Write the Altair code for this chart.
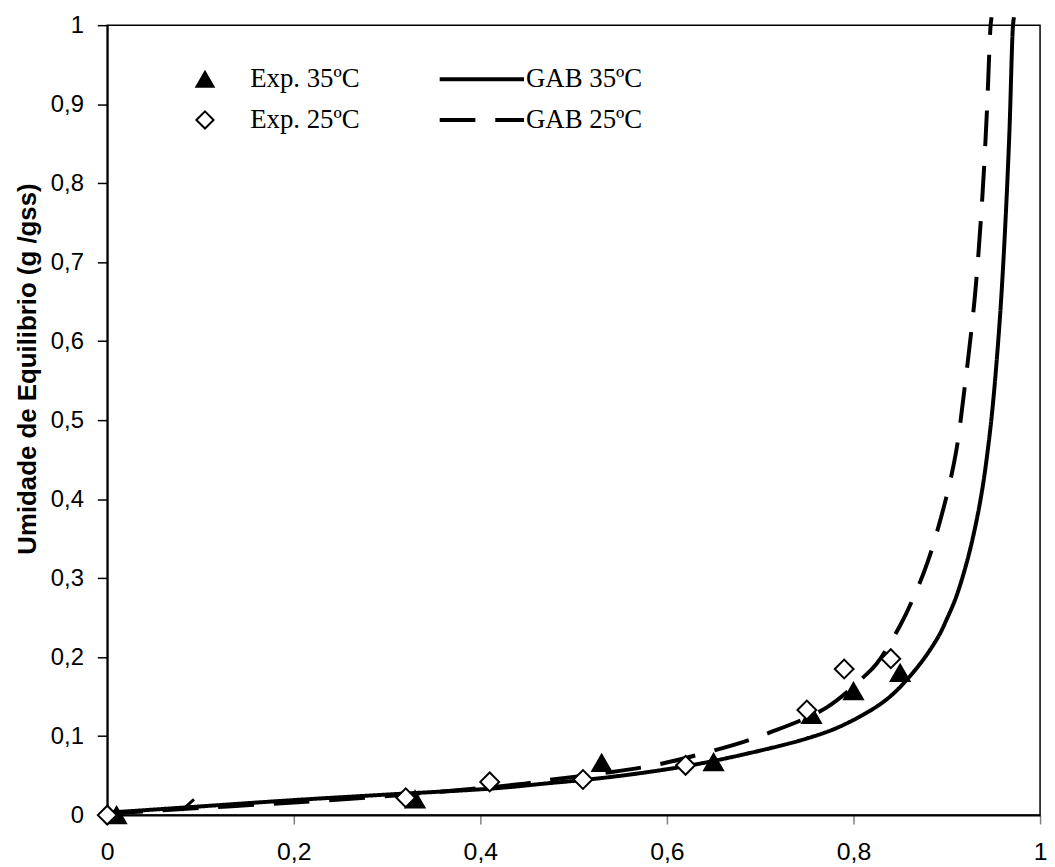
import altair as alt
import pandas as pd

# Experimental points
exp35_aw = [0.01, 0.33, 0.53, 0.65, 0.755, 0.80, 0.85]
exp35_x = [0.0, 0.020, 0.066, 0.067, 0.127, 0.157, 0.180]
exp25_aw = [0.0, 0.32, 0.41, 0.51, 0.62, 0.75, 0.79, 0.84]
exp25_x = [0.0, 0.022, 0.042, 0.045, 0.063, 0.133, 0.185, 0.198]

# GAB model curves
gab35_aw = [0.0, 0.1, 0.2, 0.3, 0.417, 0.47, 0.523, 0.577, 0.63, 0.683, 0.75, 0.789,
            0.835, 0.867, 0.890, 0.900, 0.910, 0.921, 0.930, 0.938, 0.945, 0.950, 0.957,
            0.962, 0.967, 0.971, 0.972]
gab35_x = [0.003, 0.011, 0.019, 0.026, 0.034, 0.040, 0.046, 0.054, 0.064, 0.077, 0.097, 0.114,
           0.146, 0.185, 0.224, 0.248, 0.276, 0.318, 0.362, 0.412, 0.472, 0.527, 0.630,
           0.730, 0.860, 1.0, 1.01]
gab25_aw = [0.0, 0.1, 0.2, 0.289, 0.35, 0.441, 0.47, 0.531, 0.59, 0.648, 0.683, 0.707, 0.771,
            0.811, 0.825, 0.850, 0.866, 0.880, 0.899, 0.910, 0.918, 0.930, 0.938, 0.943, 0.947, 0.948]
gab25_x = [0.002, 0.009, 0.016, 0.023, 0.029, 0.039, 0.044, 0.053, 0.064, 0.081, 0.093, 0.103, 0.136,
           0.175, 0.192, 0.240, 0.280, 0.322, 0.400, 0.460, 0.530, 0.655, 0.780, 0.890, 1.0, 1.01]

# small stray stroke near the origin
stray_aw = [0.080, 0.093]
stray_x = [0.006, 0.020]

series_names = ["Exp. 35ºC", "Exp. 25ºC"]
model_names = ["GAB 35ºC", "GAB 25ºC"]
x_ticks = [0, 0.2, 0.4, 0.6, 0.8, 1]
y_ticks = [0, 0.1, 0.2, 0.3, 0.4, 0.5, 0.6, 0.7, 0.8, 0.9, 1]

pts = pd.DataFrame(
    [{"aw": a, "X": v, "series": series_names[0]} for a, v in zip(exp35_aw, exp35_x)]
    + [{"aw": a, "X": v, "series": series_names[1]} for a, v in zip(exp25_aw, exp25_x)]
)
pts["order"] = range(len(pts))
lines = pd.DataFrame(
    [{"aw": a, "X": v, "model": model_names[0]} for a, v in zip(gab35_aw, gab35_x)]
    + [{"aw": a, "X": v, "model": model_names[1]} for a, v in zip(gab25_aw, gab25_x)]
)
stray = pd.DataFrame({"aw": stray_aw, "X": stray_x})

label_expr = "replace(format(datum.value, '.1~f'), '.', ',')"

xscale = alt.Scale(domain=[0, 1], nice=False)
yscale = alt.Scale(domain=[0, 1], nice=False)

xaxis = alt.Axis(values=x_ticks, labelExpr=label_expr, title=None, grid=False,
                 tickSize=9, tickColor="#808080", tickWidth=1.5, labelPadding=16,
                 labelFlush=False, labelOverlap=False,
                 labelFont="Liberation Sans", labelFontSize=25, labelColor="black",
                 domainColor="black", domainWidth=2)
yaxis = alt.Axis(values=y_ticks, labelExpr=label_expr, title="Umidade de Equilibrio (g /gss)",
                 grid=False, tickSize=10, tickColor="black", tickWidth=1.5, labelPadding=14,
                 labelFlush=False, labelOverlap=False,
                 labelFont="Liberation Sans", labelFontSize=24, labelColor="black",
                 domainColor="black", domainWidth=2,
                 titleFont="Liberation Sans", titleFontSize=26, titleFontWeight="bold",
                 titleColor="black", titleX=-80, titleY=346, titleAngle=-90,
                 titleBaseline="middle", titleAlign="center")

line_legend = alt.Legend(title=None, orient="none", legendX=333, legendY=42,
                         symbolType="stroke", symbolSize=7225, symbolStrokeWidth=4,
                         symbolStrokeColor="black", labelOffset=0, clipHeight=25,
                         rowPadding=13, padding=0, labelFont="Liberation Serif",
                         labelFontSize=27, labelColor="black", labelBaseline="middle")

pt_legend = alt.Legend(title=None, orient="none", legendX=85, legendY=42,
                       symbolSize=300, symbolStrokeWidth=2, symbolStrokeColor="black",
                       labelOffset=32, clipHeight=25, rowPadding=13, padding=0,
                       labelFont="Liberation Serif", labelFontSize=27, labelColor="black",
                       labelBaseline="middle", symbolOpacity=1)

line_layer = alt.Chart(lines).mark_line(color="black", strokeWidth=4, clip=False,
                                        interpolate="catmull-rom", strokeCap="butt").encode(
    x=alt.X("aw:Q", scale=xscale, axis=xaxis),
    y=alt.Y("X:Q", scale=yscale, axis=yaxis),
    strokeDash=alt.StrokeDash("model:N",
                              scale=alt.Scale(domain=model_names, range=[[1, 0], [36, 20]]),
                              legend=line_legend),
)

stray_layer = alt.Chart(stray).mark_line(color="black", strokeWidth=3).encode(
    x=alt.X("aw:Q", scale=xscale),
    y=alt.Y("X:Q", scale=yscale),
)

pt_layer = alt.Chart(pts).mark_point(strokeWidth=2, opacity=1, size=360,
                                     clip=False).encode(
    x=alt.X("aw:Q", scale=xscale),
    y=alt.Y("X:Q", scale=yscale),
    shape=alt.Shape("series:N",
                    scale=alt.Scale(domain=series_names, range=["triangle-up", "diamond"]),
                    legend=pt_legend),
    fill=alt.Fill("series:N",
                  scale=alt.Scale(domain=series_names, range=["black", "white"]),
                  legend=pt_legend),
    stroke=alt.Stroke("series:N",
                      scale=alt.Scale(domain=series_names, range=["black", "black"]),
                      legend=pt_legend),
    order=alt.Order("order:Q"),
)

chart = alt.layer(line_layer, stray_layer, pt_layer).properties(
    width=940, height=796,
    autosize=alt.AutoSizeParams(type="none"),
    padding={"left": 100, "top": 14, "right": 7, "bottom": 48},
    background="white",
).configure_view(stroke="black", strokeWidth=1.5)

chart.save("out.html", embed_options={"renderer": "svg", "actions": False})
